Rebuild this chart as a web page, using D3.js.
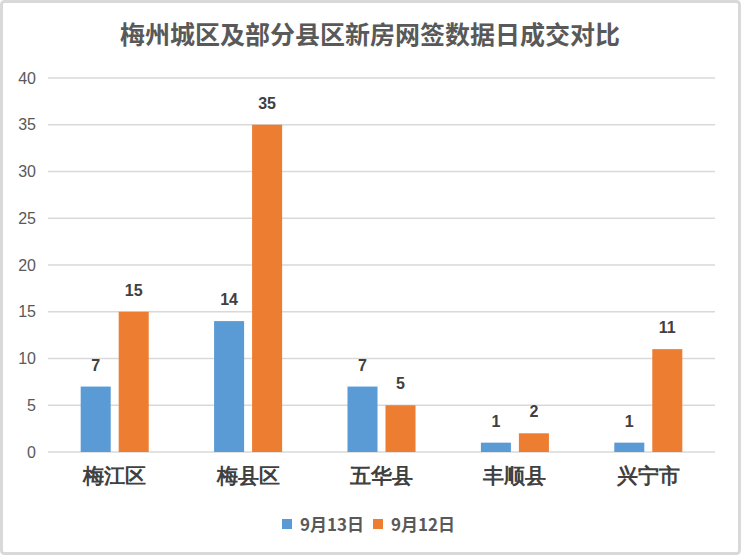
<!DOCTYPE html>
<html><head><meta charset="utf-8">
<script src="https://cdn.jsdelivr.net/npm/d3@7"></script>
<style>
body{margin:0;background:#fff;}
svg{display:block;font-family:"Noto Sans CJK SC","Microsoft YaHei",sans-serif;}
</style></head>
<body><svg id="c" width="741" height="557"></svg>
<script>
const title = "梅州城区及部分县区新房网签数据日成交对比";
const categories = ["梅江区","梅县区","五华县","丰顺县","兴宁市"];
const seriesNames = ["9月13日","9月12日"];
const sep13 = [7,14,7,1,1];
const sep12 = [15,35,5,2,11];
const yTicks = [0,5,10,15,20,25,30,35,40];
const colors = ["#5b9bd5","#ed7d31"];

const svg = d3.select("#c");
svg.append("rect").attr("x",1.5).attr("y",1.5).attr("width",738).attr("height",552)
  .attr("rx",3).attr("fill","#fff").attr("stroke","#d9d9d9").attr("stroke-width",3);

const m = {l:48, r:26};
const W = 741;
const x = d3.scaleBand().domain(categories).range([m.l, W-m.r]);
const y = d3.scaleLinear().domain([0,40]).range([452,78]);

svg.append("text").attr("x",370).attr("y",44).attr("text-anchor","middle")
  .attr("font-size",25).attr("font-weight","bold").attr("fill","#595959").text(title);

svg.append("g").selectAll("line").data(yTicks).join("line")
  .attr("x1",m.l).attr("x2",W-m.r).attr("y1",d=>y(d)).attr("y2",d=>y(d))
  .attr("stroke","#d9d9d9").attr("stroke-width",1.3);

const yAxis = d3.axisLeft(y).tickValues(yTicks).tickSize(0).tickPadding(0);
const ya = svg.append("g").attr("transform","translate(36,0)").call(yAxis);
ya.select(".domain").remove();
ya.selectAll("text").attr("font-size",16).attr("fill","#595959")
  .attr("font-family","'Liberation Sans','DejaVu Sans',sans-serif");

const xAxis = d3.axisBottom(x).tickSize(0).tickPadding(0);
const xa = svg.append("g").attr("transform","translate(0,468)").call(xAxis);
xa.select(".domain").remove();
xa.selectAll("text").attr("font-size",21).attr("font-weight","bold").attr("fill","#404040").attr("dy","0.71em");

const inner = d3.scaleBand().domain([0,1]).range([0, x.bandwidth()]).paddingInner(0.21).paddingOuter(0.86);
const series = [sep13, sep12];
series.forEach((vals,si)=>{
  const gg = svg.append("g");
  gg.selectAll("rect").data(vals).join("rect")
    .attr("x",(d,i)=>x(categories[i])+inner(si))
    .attr("width",inner.bandwidth())
    .attr("y",d=>y(d)).attr("height",d=>y(0)-y(d))
    .attr("fill",colors[si]);
  gg.selectAll("text").data(vals).join("text")
    .attr("x",(d,i)=>x(categories[i])+inner(si)+inner.bandwidth()/2)
    .attr("y",d=>y(d)-16).attr("text-anchor","middle")
    .attr("font-size",16).attr("font-weight","bold").attr("fill","#404040")
    .attr("font-family","'Liberation Sans','DejaVu Sans',sans-serif")
    .text(d=>d);
});

const lg = svg.append("g");
const lx = [282, 373];
seriesNames.forEach((n,i)=>{
  lg.append("rect").attr("x",lx[i]).attr("y",519).attr("width",10).attr("height",10).attr("fill",colors[i]);
  lg.append("text").attr("x",lx[i]+18).attr("y",531).attr("font-size",17).attr("font-weight","bold")
    .attr("fill","#595959").text(n);
});
</script></body></html>
